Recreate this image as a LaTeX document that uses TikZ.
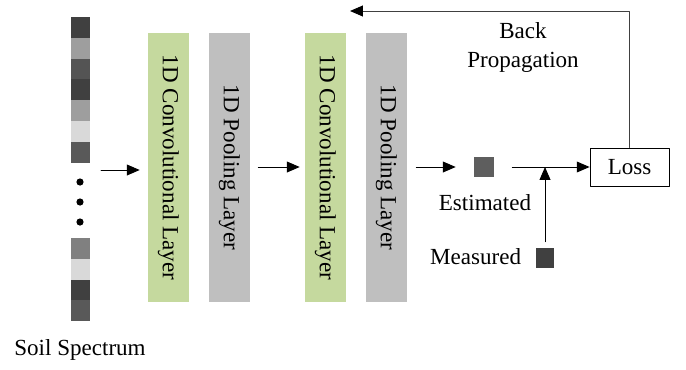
\documentclass[tikz,border=0pt]{standalone}
\usepackage{fontspec}
\setmainfont{Liberation Serif}
\usetikzlibrary{arrows.meta}

\definecolor{convgreen}{RGB}{197,217,158}
\definecolor{poolgray}{RGB}{191,191,191}

\begin{document}
\begin{tikzpicture}[
  line cap=round,
  line join=round,
  txt/.style={font=\fontsize{16.4}{20.5}\selectfont},
  layer/.style={txt, rotate=-90, minimum width=6.725cm, minimum height=1.025cm, inner sep=0pt},
  conv/.style={layer, fill=convgreen},
  pool/.style={layer, fill=poolgray},
  cell/.style={minimum width=0.475cm, minimum height=0.52cm, inner sep=0pt},
  arr/.style={line width=0.7pt, -{Triangle[length=0.32cm,width=0.27cm,color=black]}}
]
  \useasboundingbox (0,0) rectangle (17.15,9.225);

  % Спектр
  \foreach \g [count=\i] in {75,38,67,75,38,15,65}
    \node[cell, fill=black!\g] (top\i) at (2,{8.8-0.26-(\i-1)*0.52}) {};
  \foreach \g [count=\i] in {50,15,75,65}
    \node[cell, fill=black!\g] (bot\i) at (2,{3.275-0.26-(\i-1)*0.52}) {};
  \foreach \y [count=\i] in {4.675,4.175,3.675}
    \fill (2,\y) circle (0.09);
  \node[txt] (spec) at (2,0.475) {Soil Spectrum};

  % Слои (повёрнуты: south -- слева, north -- справа)
  \node[conv] (conv1) at (4.2125,5.0375) {1D Convolutional Layer};
  \node[pool] (pool1) at (5.7375,5.0375) {1D Pooling Layer};
  \node[conv] (conv2) at (8.1375,5.0375) {1D Convolutional Layer};
  \node[pool] (pool2) at (9.6625,5.0375) {1D Pooling Layer};

  % Выход
  \node[cell, minimum height=0.5cm, minimum width=0.5cm, fill=black!63] (est) at (12.1,5.05) {};
  \node[txt] (estlbl) at (12.125,4.15) {Estimated};
  \node[cell, minimum height=0.48cm, minimum width=0.46cm, fill=black!75] (meas) at (13.625,2.775) {};
  \node[txt, anchor=east] (measlbl) at (13.15,2.8) {Measured};
  \node[txt, draw, line width=0.7pt, minimum width=1.975cm, minimum height=0.95cm] (loss) at (15.74,5.05) {Loss};
  \node[txt, align=center] (bplbl) at (13.075,8.04) {Back\\Propagation};

  \coordinate (a1) at (2.525,4.975);
  \coordinate (j) at (meas |- est);
  \coordinate (bp) at (8.75,8.95);

  % Стрелки
  \draw[arr] (a1) -- ([xshift=-0.2cm]a1 -| conv1.south);
  \draw[arr, shorten <=0.2cm, shorten >=0.125cm] (pool1.north |- est) -- (conv2.south |- est);
  \draw[arr, shorten <=0.225cm, shorten >=0.45cm] (pool2.north |- est) -- (est);
  \draw[arr, shorten <=0.45cm] (est) -- (loss);
  \draw[arr, shorten <=0.165cm] (meas) -- (j);
  \draw[arr, draw=black!75] (loss.north) |- (bp);
\end{tikzpicture}
\end{document}
